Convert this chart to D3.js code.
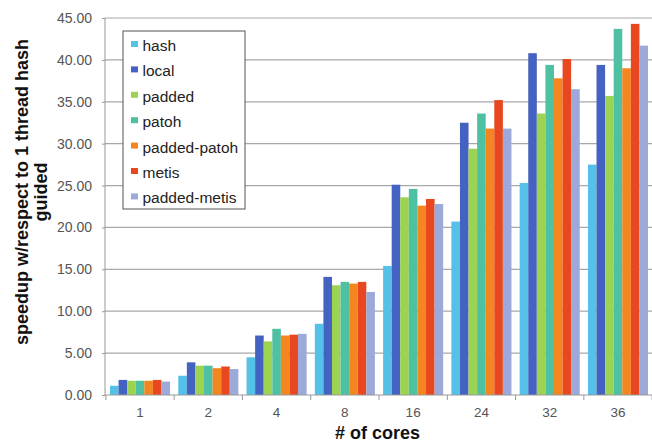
<!DOCTYPE html>
<html>
<head>
<meta charset="utf-8">
<script src="https://cdn.jsdelivr.net/npm/d3@7"></script>
<style>
  body { margin: 0; background: #fff; }
  svg { display: block; font-family: Arial, "Liberation Sans", sans-serif; }
</style>
</head>
<body>
<svg id="chart" width="652" height="443"></svg>
<script>
const cores = ["1", "2", "4", "8", "16", "24", "32", "36"];
const seriesNames = ["hash", "local", "padded", "patoh", "padded-patoh", "metis", "padded-metis"];
const seriesColors = ["#55c1e8", "#4462c2", "#9dd352", "#4fc1a3", "#f5861f", "#e8471f", "#9caad9"];

const hash = [1.1, 2.3, 4.5, 8.5, 15.4, 20.7, 25.3, 27.5];
const local = [1.8, 3.9, 7.1, 14.1, 25.1, 32.5, 40.8, 39.4];
const padded = [1.7, 3.5, 6.4, 13.1, 23.6, 29.4, 33.6, 35.7];
const patoh = [1.7, 3.5, 7.9, 13.5, 24.6, 33.6, 39.4, 43.7];
const paddedPatoh = [1.7, 3.2, 7.1, 13.3, 22.6, 31.8, 37.8, 39.0];
const metis = [1.8, 3.4, 7.2, 13.5, 23.4, 35.2, 40.1, 44.3];
const paddedMetis = [1.6, 3.1, 7.3, 12.3, 22.8, 31.8, 36.5, 41.7];
const allSeries = [hash, local, padded, patoh, paddedPatoh, metis, paddedMetis];

const yTicks = [0, 5, 10, 15, 20, 25, 30, 35, 40, 45];

const svg = d3.select("#chart");
const margin = { top: 18, right: -1, bottom: 48, left: 105 };
const width = 652 - margin.left - margin.right;
const height = 443 - margin.top - margin.bottom;

const g = svg.append("g").attr("transform", `translate(${margin.left},${margin.top})`);

const x = d3.scaleBand().domain(cores).range([0, width]).paddingInner(0.12).paddingOuter(0.073);
const xs = d3.scaleBand().domain(seriesNames).range([0, x.bandwidth()]);
const y = d3.scaleLinear().domain([0, 45]).range([height, 0]);

// grid lines
g.append("g")
  .selectAll("line")
  .data(yTicks.slice(1))
  .join("line")
  .attr("x1", 0)
  .attr("x2", width)
  .attr("y1", (d) => y(d))
  .attr("y2", (d) => y(d))
  .attr("stroke", "#a8a8a8")
  .attr("stroke-width", 1.2);

// bars
const rows = cores.map((c, i) => ({ core: c, values: allSeries.map((s, k) => ({ name: seriesNames[k], value: s[i], color: seriesColors[k] })) }));

g.append("g")
  .selectAll("g")
  .data(rows)
  .join("g")
  .attr("transform", (d) => `translate(${x(d.core)},0)`)
  .selectAll("rect")
  .data((d) => d.values)
  .join("rect")
  .attr("x", (d) => xs(d.name))
  .attr("width", xs.bandwidth())
  .attr("y", (d) => y(d.value))
  .attr("height", (d) => height - y(d.value))
  .attr("fill", (d) => d.color);

// y axis
const yAxis = g.append("g")
  .call(d3.axisLeft(y).tickValues(yTicks).tickFormat(d3.format(".2f")).tickSize(3).tickPadding(10));
yAxis.select(".domain").attr("stroke", "#999").attr("d", `M0,${height}V0`);
yAxis.selectAll(".tick line").attr("stroke", "#999");
yAxis.selectAll("text").attr("font-size", 14).attr("fill", "#555");

// x axis
const xAxis = g.append("g")
  .attr("transform", `translate(0,${height})`)
  .call(d3.axisBottom(x).tickSize(0).tickPadding(12));
xAxis.select(".domain").attr("stroke", "#999").attr("d", `M0,0H${width}`);
xAxis.selectAll("text").attr("font-size", 13.5).attr("fill", "#555");

// separators between groups
const step = x.step();
g.append("g")
  .selectAll("line")
  .data(d3.range(cores.length + 1))
  .join("line")
  .attr("x1", (i) => x(cores[0]) - x.paddingInner() * step / 2 + i * step)
  .attr("x2", (i) => x(cores[0]) - x.paddingInner() * step / 2 + i * step)
  .attr("y1", height)
  .attr("y2", height + 5)
  .attr("stroke", "#999");

// axis titles
svg.append("text")
  .attr("x", 377.5)
  .attr("y", 439)
  .attr("text-anchor", "middle")
  .attr("font-size", 18)
  .attr("font-weight", "bold")
  .attr("fill", "#111")
  .text("# of cores");

const yTitle = svg.append("text")
  .attr("transform", "translate(27.5,192) rotate(-90)")
  .attr("text-anchor", "middle")
  .attr("font-size", 18)
  .attr("font-weight", "bold")
  .attr("fill", "#111");
yTitle.append("tspan").attr("x", 0).attr("dy", 0).text("speedup w/respect to 1 thread hash");
yTitle.append("tspan").attr("x", 0).attr("dy", 19.5).text("guided");

// legend
const legend = svg.append("g").attr("transform", "translate(123,31)");
legend.append("rect")
  .attr("width", 122)
  .attr("height", 178)
  .attr("fill", "#fff")
  .attr("stroke", "#555")
  .attr("stroke-width", 1);
const items = legend.selectAll("g")
  .data(seriesNames)
  .join("g")
  .attr("transform", (d, i) => `translate(8,${14.5 + i * 25.4})`);
items.append("rect")
  .attr("x", 0)
  .attr("y", -4.5)
  .attr("width", 7)
  .attr("height", 6)
  .attr("fill", (d, i) => seriesColors[i]);
items.append("text")
  .attr("x", 11.5)
  .attr("y", 5.5)
  .attr("font-size", 15.5)
  .attr("fill", "#222")
  .text((d) => d);
</script>
</body>
</html>
